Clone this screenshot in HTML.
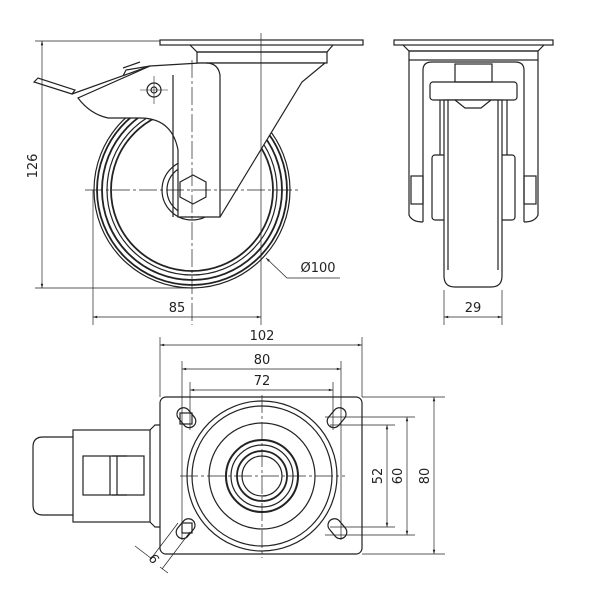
<!DOCTYPE html>
<html><head><style>body{margin:0;background:#fff}svg{display:block}text{font-family:"DejaVu Sans","Liberation Sans",sans-serif;font-size:13px;fill:#222}</style></head>
<body>
<svg width="600" height="600" viewBox="0 0 600 600" xmlns="http://www.w3.org/2000/svg">
<defs><marker id="a" viewBox="0 0 10 10" refX="10" refY="5" markerWidth="7" markerHeight="6" orient="auto-start-reverse"><path d="M0,2 L10,5 L0,8z" fill="#222"/></marker></defs>
<g fill="none" stroke="#222" stroke-width="1.2">
<rect x="160" y="40" width="203" height="5"/>
<path d="M190,45 L197,52 H327 L333,45"/>
<rect x="197" y="52" width="130" height="11"/>
<circle cx="192" cy="190" r="98"/>
<circle cx="192" cy="190" r="95" stroke-width="1.8"/>
<circle cx="192" cy="190" r="90" stroke-width="1.8"/>
<circle cx="192" cy="190" r="85"/>
<circle cx="192" cy="190" r="81" stroke-width="1.8"/>
<circle cx="192" cy="190" r="30"/>
<circle cx="192" cy="190" r="25"/>
<path d="M325,63 L302,82 L220,217 L178,217 L178,150 Q172,118 140,118 L108,118 Q90,114 78,98 L150,66 L200,63 Z" fill="#fff"/>
<path d="M206,63 Q218,63 220,75 L220,217"/>
<path d="M173,75 L173,217"/>
<polygon points="193,175 206,182 206,197 193,204 180,197 180,182" fill="#fff"/>
<path d="M34,82 L38,78 L75,90 L72,94 Z" fill="#fff"/>
<path d="M72,94 L150,66 L126,70 L123,76"/>
<path d="M123,68 L140,62"/>
<circle cx="154" cy="90" r="7"/>
<circle cx="154" cy="90" r="3"/>
<path d="M140,90 H168 M154,76 V104" stroke-width="0.6"/>
</g>
<g fill="none" stroke="#222" stroke-width="0.7">
<path d="M192,60 V325 M85,190 H300" stroke-dasharray="18,3,3,3"/>
<path d="M261,33 V325"/>
<path d="M35,41 H160 M35,288 H190"/>
<path d="M42,41 V288" marker-start="url(#a)" marker-end="url(#a)"/>
<path d="M93,190 V325"/>
<path d="M93,317 H261" marker-start="url(#a)" marker-end="url(#a)"/>
<path d="M340,278 H287 L266,258" marker-end="url(#a)"/>
</g>
<text x="0" y="0" transform="translate(37,166) rotate(-90)" text-anchor="middle">126</text>
<text x="177" y="312" text-anchor="middle">85</text>
<text x="318" y="272" text-anchor="middle">Ø100</text>

<g fill="none" stroke="#222" stroke-width="1.2">
<rect x="394" y="40" width="159" height="5"/>
<path d="M403,45 L409,51 H538 L544,45"/>
<rect x="409" y="51" width="129" height="9"/>
<path d="M409,60 V215 Q412,222 423,222 M538,60 V215 Q535,222 524,222"/>
<path d="M423,222 V70 Q423,62 432,62 H515 Q524,62 524,70 V222"/>
<rect x="430" y="82" width="87" height="18" rx="3"/>
<rect x="455" y="64" width="37" height="18"/>
<path d="M440,100 V155 M507,100 V155"/>
<rect x="432" y="155" width="83" height="65" rx="3"/>
<path d="M444,100 V276 Q444,287 455,287 H491 Q502,287 502,276 V100 Z" fill="#fff"/>
<path d="M448,100 V270 M498,100 V270"/>
<path d="M455,100 L465,108 H481 L491,100"/>
<rect x="411" y="176" width="12" height="28"/>
<rect x="524" y="176" width="12" height="28"/>
</g>
<g fill="none" stroke="#222" stroke-width="0.7">
<path d="M444,290 V325 M502,290 V325"/>
<path d="M444,317 H502" marker-start="url(#a)" marker-end="url(#a)"/>
</g>
<text x="473" y="312" text-anchor="middle">29</text>

<g fill="none" stroke="#222" stroke-width="1.2">
<rect x="160" y="397" width="202" height="157" rx="6"/>
<circle cx="262" cy="476" r="75"/>
<circle cx="262" cy="476" r="70"/>
<circle cx="262" cy="476" r="53"/>
<circle cx="262" cy="476" r="36" stroke-width="2"/>
<circle cx="262" cy="476" r="31"/>
<circle cx="262" cy="476" r="25" stroke-width="1.8"/>
<circle cx="262" cy="476" r="20"/>
<rect x="175" y="411" width="22" height="13" rx="6.5" transform="rotate(50 186 418)"/>
<rect x="326" y="411" width="22" height="13" rx="6.5" transform="rotate(-50 337 418)"/>
<rect x="175" y="522" width="22" height="13" rx="6.5" transform="rotate(-50 186 529)"/>
<rect x="326" y="522" width="22" height="13" rx="6.5" transform="rotate(50 337 529)"/>
<rect x="180" y="413" width="12" height="11"/>
<rect x="182" y="523" width="10" height="10"/>
<path d="M73,437 H43 Q33,437 33,447 V505 Q33,515 43,515 H73"/>
<rect x="73" y="430" width="77" height="92"/>
<path d="M150,430 L155,425 H160 M150,522 L155,527 H160"/>
<rect x="83" y="456" width="61" height="39"/>
<path d="M110,456 V495 M117,456 V495 M112,456 H127 M112,495 H127"/>
</g>
<g fill="none" stroke="#222" stroke-width="0.7">
<path d="M262,395 V558 M180,476 H345" stroke-dasharray="18,3,3,3"/>
<path d="M160,337 V397 M362,337 V397 M182,361 V540 M341,361 V540 M190,382 V430 M333,382 V430"/>
<path d="M160,345 H362" marker-start="url(#a)" marker-end="url(#a)"/>
<path d="M182,369 H341" marker-start="url(#a)" marker-end="url(#a)"/>
<path d="M190,390 H333" marker-start="url(#a)" marker-end="url(#a)"/>
<path d="M362,397 H445 M362,554 H445 M325,417 H415 M325,535 H415 M330,425 H395 M330,527 H395"/>
<path d="M434,397 V554" marker-start="url(#a)" marker-end="url(#a)"/>
<path d="M407,417 V535" marker-start="url(#a)" marker-end="url(#a)"/>
<path d="M387,425 V527" marker-start="url(#a)" marker-end="url(#a)"/>
<path d="M178,523 L150,560 M190,532 L162,569 M135,546 L152,559 M160,567 L168,573"/>
</g>
<text x="262" y="340" text-anchor="middle">102</text>
<text x="262" y="364" text-anchor="middle">80</text>
<text x="262" y="385" text-anchor="middle">72</text>
<text transform="translate(382,476) rotate(-90)" text-anchor="middle">52</text>
<text transform="translate(402,476) rotate(-90)" text-anchor="middle">60</text>
<text transform="translate(429,476) rotate(-90)" text-anchor="middle">80</text>
<text transform="translate(158,556) rotate(-125)" text-anchor="middle">9</text>
</svg>
</body></html>
